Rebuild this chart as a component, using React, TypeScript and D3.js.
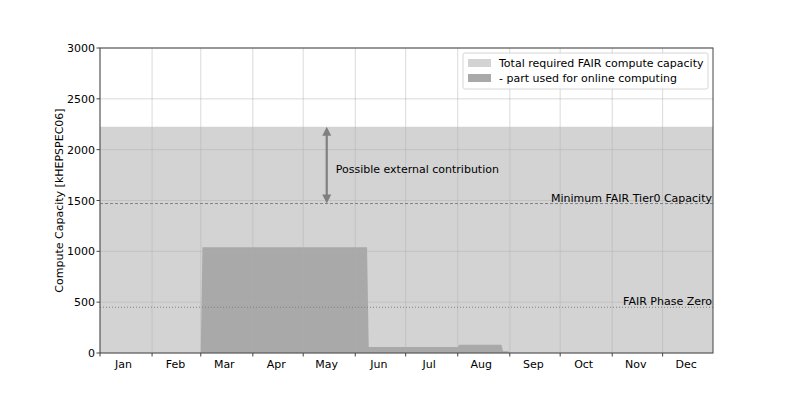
import React from 'react';
import * as d3 from 'd3';

// daily step points of the online computing share (kHEPSPEC06)
const onlineDates = [
    '2024-01-01', '2024-03-01', '2024-03-02', '2024-06-08', '2024-06-09',
    '2024-08-01', '2024-08-02', '2024-08-27', '2024-08-28', '2024-08-31',
    '2024-09-01', '2024-12-31',
];
const onlineValues = [0, 0, 1040, 1040, 60, 60, 80, 80, 17, 17, 0, 0];

const totalDates = ['2024-01-01', '2024-12-31'];
const totalValues = [2225, 2225];

const tier0Capacity = 1470;
const phaseZero = 450;
const arrowDate = '2024-05-15';

const monthLabels = ['Jan', 'Feb', 'Mar', 'Apr', 'May', 'Jun', 'Jul', 'Aug', 'Sep', 'Oct', 'Nov', 'Dec'];
const yTicks = [0, 500, 1000, 1500, 2000, 2500, 3000];

const legendItems = [
    { label: 'Total required FAIR compute capacity', color: '#d3d3d3' },
    { label: '- part used for online computing', color: '#a9a9a9' },
];

const width = 793;
const height = 397;
const margin = { top: 48, right: 80, bottom: 44, left: 100 };
const font = 'DejaVu Sans, sans-serif';

export default function App() {
    const parse = d3.timeParse('%Y-%m-%d');

    const x = d3.scaleTime()
        .domain([new Date(2024, 0, 1), new Date(2024, 11, 31)])
        .range([margin.left, width - margin.right]);
    const y = d3.scaleLinear()
        .domain([0, 3000])
        .range([height - margin.bottom, margin.top]);

    const area = d3.area<[Date, number]>()
        .x(d => x(d[0]))
        .y0(y(0))
        .y1(d => y(d[1]));

    const totalPts = totalDates.map((d, i) => [parse(d)!, totalValues[i]] as [Date, number]);
    const onlinePts = onlineDates.map((d, i) => [parse(d)!, onlineValues[i]] as [Date, number]);

    const monthStarts = d3.timeMonths(new Date(2024, 0, 1), new Date(2024, 11, 31));
    const monthMids = monthStarts.map(m => new Date(m.getFullYear(), m.getMonth(), 15));

    const x0 = x.range()[0];
    const x1 = x.range()[1];
    const yBottom = y(0);
    const yTop = y(3000);

    const ax = x(parse(arrowDate)!);
    const aTop = y(totalValues[0]);
    const aBot = y(tier0Capacity);
    const headL = 9;
    const headW = 4.5;

    return (
        <svg width={width} height={height} style={{ position: 'absolute', left: 0, top: 0 }}
            fontFamily={font}>
            <rect width={width} height={height} fill="#fff" />

            <path d={area(totalPts)!} fill="#d3d3d3" />
            <path d={area(onlinePts)!} fill="#a9a9a9" />

            {/* grid */}
            <g stroke="#b0b0b0" strokeOpacity={0.6} strokeWidth={0.8}>
                {yTicks.map(t => (
                    <line key={'gy' + t} x1={x0} x2={x1} y1={y(t)} y2={y(t)} />
                ))}
                {monthStarts.map((m, i) => (
                    <line key={'gx' + i} x1={x(m)} x2={x(m)} y1={yTop} y2={yBottom} />
                ))}
            </g>

            {/* reference lines */}
            <line x1={x0} x2={x1} y1={y(tier0Capacity)} y2={y(tier0Capacity)}
                stroke="#808080" strokeWidth={1} strokeDasharray="3,2" />
            <text x={x1 - 1} y={y(tier0Capacity) - 2} textAnchor="end" fontSize={11} fill="#000">
                Minimum FAIR Tier0 Capacity
            </text>
            <line x1={x0} x2={x1} y1={y(phaseZero)} y2={y(phaseZero)}
                stroke="#808080" strokeWidth={1} strokeDasharray="1,2" />
            <text x={x1 - 1} y={y(phaseZero) - 2} textAnchor="end" fontSize={11} fill="#000">
                FAIR Phase Zero
            </text>

            {/* double arrow */}
            <line x1={ax} x2={ax} y1={aTop + headL - 1} y2={aBot - headL + 1}
                stroke="#808080" strokeWidth={2.2} />
            <path d={`M${ax},${aTop} L${ax - headW},${aTop + headL} L${ax + headW},${aTop + headL} Z`}
                fill="#808080" />
            <path d={`M${ax},${aBot} L${ax - headW},${aBot - headL} L${ax + headW},${aBot - headL} Z`}
                fill="#808080" />
            <text x={ax + 9} y={(aTop + aBot) / 2 + 8} fontSize={11} fill="#000">
                Possible external contribution
            </text>

            {/* axes frame */}
            <rect x={x0} y={yTop} width={x1 - x0} height={yBottom - yTop}
                fill="none" stroke="#444" strokeWidth={1} />

            {/* y ticks */}
            {yTicks.map(t => (
                <g key={'yt' + t}>
                    <line x1={x0 - 3.5} x2={x0} y1={y(t)} y2={y(t)} stroke="#444" />
                    <text x={x0 - 5} y={y(t) + 4} textAnchor="end" fontSize={11} fill="#000">
                        {t}
                    </text>
                </g>
            ))}
            <text transform={`translate(${63},${(yTop + yBottom) / 2}) rotate(-90)`}
                textAnchor="middle" fontSize={11} fill="#000">
                Compute Capacity [kHEPSPEC06]
            </text>

            {/* x ticks */}
            {monthStarts.map((m, i) => (
                <line key={'xt' + i} x1={x(m)} x2={x(m)} y1={yBottom} y2={yBottom + 3.5} stroke="#444" />
            ))}
            {monthMids.map((m, i) => (
                <text key={'xl' + i} x={x(m)} y={yBottom + 15} textAnchor="middle" fontSize={11} fill="#000">
                    {monthLabels[i]}
                </text>
            ))}

            {/* legend */}
            <g transform="translate(463,53)">
                <rect width={245} height={36} rx={2} fill="#fff" fillOpacity={0.8}
                    stroke="#ccc" strokeWidth={0.8} />
                {legendItems.map((it, i) => (
                    <g key={it.label} transform={`translate(0,${10 + i * 15})`}>
                        <rect x={5} y={-4} width={23} height={8} fill={it.color} />
                        <text x={36} y={4} fontSize={11} fill="#000">{it.label}</text>
                    </g>
                ))}
            </g>
        </svg>
    );
}
